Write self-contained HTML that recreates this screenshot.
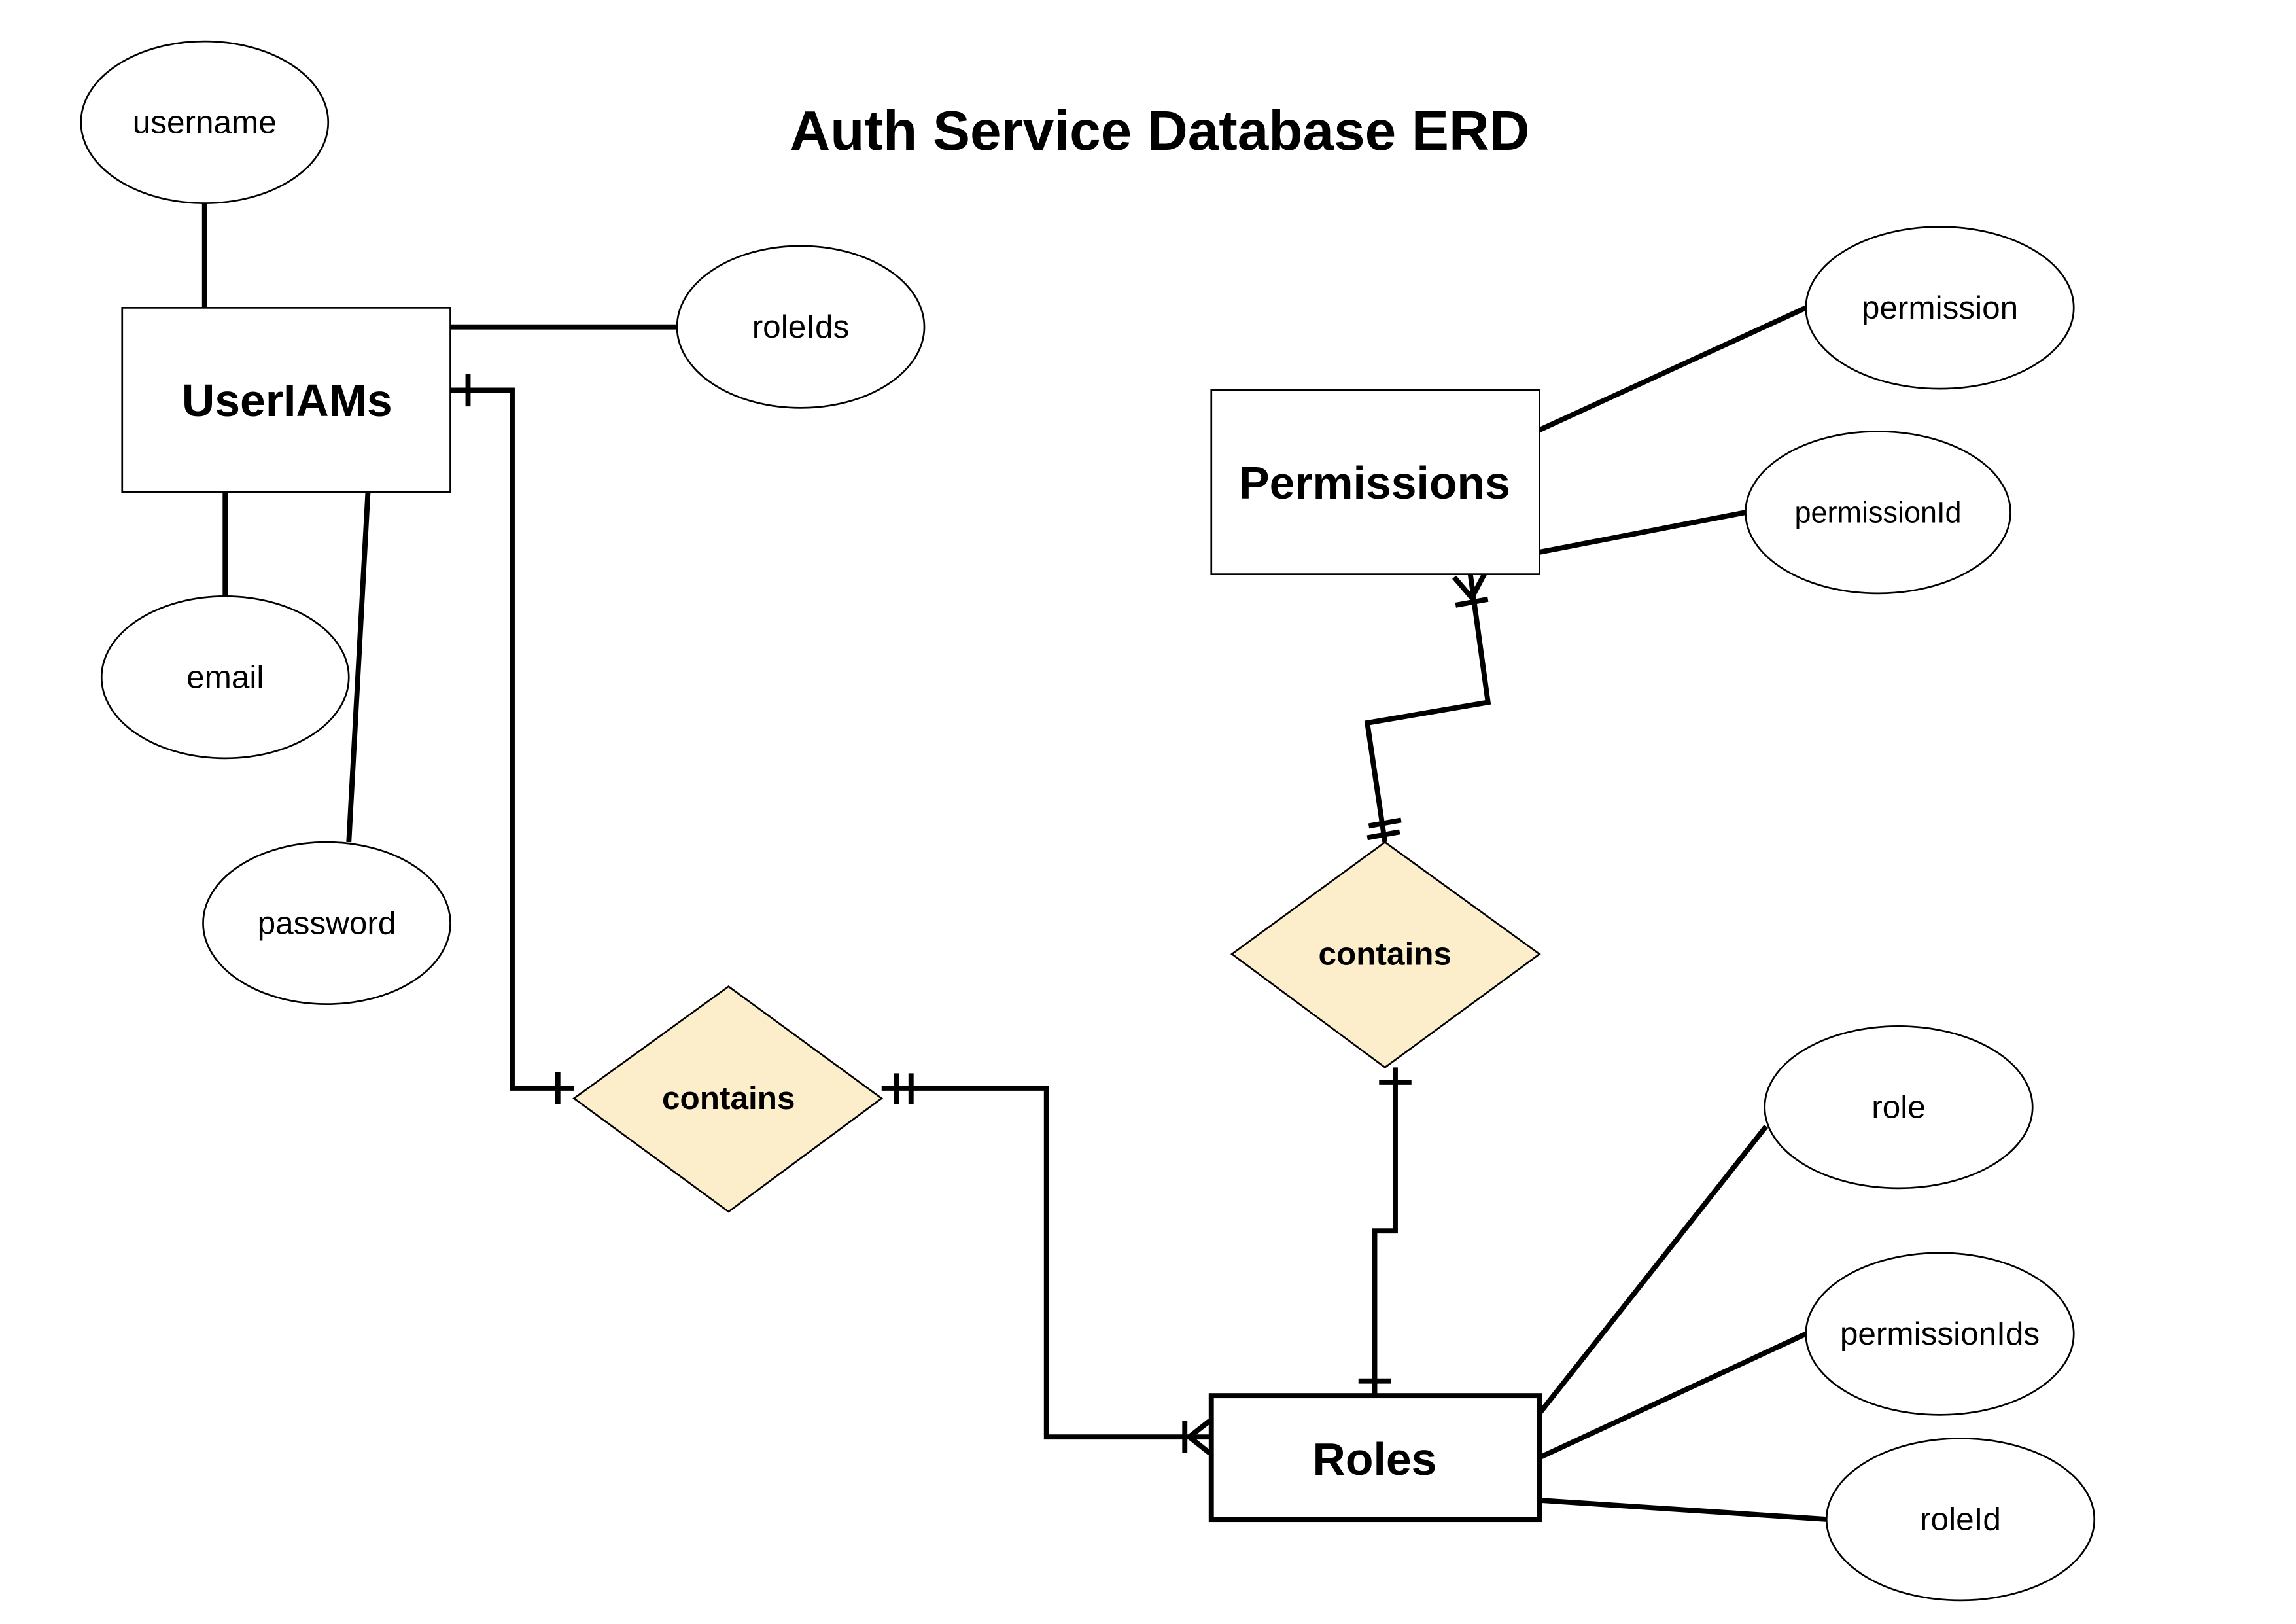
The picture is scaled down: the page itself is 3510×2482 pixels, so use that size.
<!DOCTYPE html>
<html><head><meta charset="utf-8"><style>
html,body{margin:0;padding:0;background:#fff}
svg{display:block}
text{font-family:"Liberation Sans",sans-serif;text-anchor:middle;dominant-baseline:central;fill:#000}
</style></head><body>
<svg width="3510" height="2482" viewBox="0 0 1560 1103" xmlns="http://www.w3.org/2000/svg">
<rect width="1560" height="1103" fill="#fff"/>
<text x="788" y="89" font-size="38" font-weight="bold">Auth Service Database ERD</text>

<g fill="none" stroke="#000" stroke-width="3.5">
<!-- attribute lines -->
<line x1="139" y1="138" x2="139" y2="209"/>
<line x1="306" y1="222" x2="460" y2="222"/>
<line x1="153" y1="334" x2="153" y2="405"/>
<line x1="250" y1="334" x2="237" y2="572"/>
<line x1="1046" y1="292" x2="1227" y2="209"/>
<line x1="1046" y1="375" x2="1186" y2="348"/>
<line x1="1046" y1="960" x2="1200" y2="765"/>
<line x1="1046" y1="990" x2="1227" y2="906"/>
<line x1="1046" y1="1019" x2="1242" y2="1032"/>
<!-- UserIAMs to contains -->
<polyline points="306,265 348,265 348,739 390,739"/>
<line x1="318" y1="254" x2="318" y2="276"/>
<line x1="379" y1="728" x2="379" y2="750"/>
<!-- contains to Roles -->
<polyline points="599,739 711,739 711,976 822,976"/>
<line x1="609" y1="729" x2="609" y2="750"/>
<line x1="619" y1="729" x2="619" y2="750"/>
<line x1="805" y1="965" x2="805" y2="987"/>
<polyline points="822,965 808,976 822,987"/>
<!-- Roles to contains2 -->
<polyline points="934,948 934,836 948,836 948,725"/>
<line x1="923" y1="938" x2="945" y2="938"/>
<line x1="937" y1="735" x2="959" y2="735"/>
<!-- contains2 to Permissions -->
<polyline points="941,572 929,491 1011,477 999,390"/>
<line x1="930" y1="561" x2="952" y2="557"/>
<line x1="929" y1="569" x2="951" y2="565"/>
<line x1="989" y1="411" x2="1011" y2="407"/>
<polyline points="988,392 1000,406 1009,389"/>
</g>

<!-- entities -->
<rect x="83" y="209" width="223" height="125" fill="#fff" stroke="#000" stroke-width="1.2"/>
<text x="195" y="272" font-size="31" font-weight="bold">UserIAMs</text>
<rect x="823" y="265" width="223" height="125" fill="#fff" stroke="#000" stroke-width="1.2"/>
<text x="934" y="328" font-size="31" font-weight="bold">Permissions</text>
<rect x="823" y="948" width="223" height="84" fill="#fff" stroke="#000" stroke-width="3.5"/>
<text x="934" y="991" font-size="31" font-weight="bold">Roles</text>

<!-- relationships -->
<polygon points="495,670 599,746 495,823 390,746" fill="#fdeecb" stroke="#000" stroke-width="1.2"/>
<text x="495" y="746" font-size="22" font-weight="bold">contains</text>
<polygon points="941,572 1046,648 941,725 837,648" fill="#fdeecb" stroke="#000" stroke-width="1.2"/>
<text x="941" y="648" font-size="22" font-weight="bold">contains</text>

<!-- attributes -->
<g fill="#fff" stroke="#000" stroke-width="1.2">
<ellipse cx="139" cy="83" rx="84" ry="55"/>
<ellipse cx="544" cy="222" rx="84" ry="55"/>
<ellipse cx="153" cy="460" rx="84" ry="55"/>
<ellipse cx="222" cy="627" rx="84" ry="55"/>
<ellipse cx="1318" cy="209" rx="91" ry="55"/>
<ellipse cx="1276" cy="348" rx="90" ry="55"/>
<ellipse cx="1290" cy="752" rx="91" ry="55"/>
<ellipse cx="1318" cy="906" rx="91" ry="55"/>
<ellipse cx="1332" cy="1032" rx="91" ry="55"/>
</g>
<g font-size="22">
<text x="139" y="83">username</text>
<text x="544" y="222">roleIds</text>
<text x="153" y="460">email</text>
<text x="222" y="627">password</text>
<text x="1318" y="209">permission</text>
<text x="1276" y="348" font-size="20">permissionId</text>
<text x="1290" y="752">role</text>
<text x="1318" y="906">permissionIds</text>
<text x="1332" y="1032">roleId</text>
</g>
</svg>
</body></html>
